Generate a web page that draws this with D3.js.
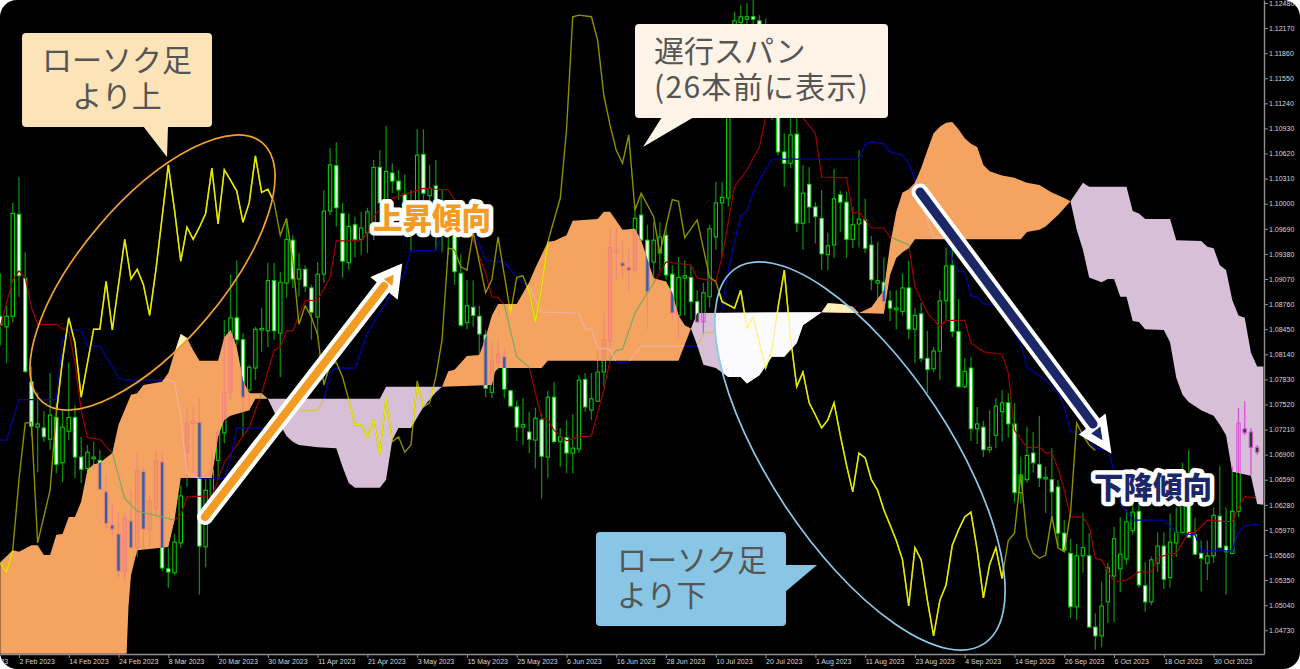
<!DOCTYPE html>
<html><head><meta charset="utf-8">
<script src="https://cdn.jsdelivr.net/npm/d3@7/dist/d3.min.js"></script>
<style>html,body{margin:0;padding:0;background:#fff}svg{display:block}</style>
</head><body><div id="chart"></div>
<script>
// All prices are in units of 0.0001 (10861 = 1.0861). Candle arrays start at bar -3.
const firstBar = -3;
const opens = [
10861,10848,10861,10987,10908,10780,10724,10723,10709,10736,
10680,10719,10736,10687,10673,10685,10683,10644,10603,10592,
10546,10608,10575,10669,10598,10623,10681,10549,10544,10581,
10693,10728,10730,10576,10640,10683,10717,10767,10859,10832,
10770,10797,10844,10843,10905,10840,10902,10955,10907,10919,
10896,10860,10913,10991,11047,10988,10927,10974,10956,10964,
10977,11045,11005,11038,11028,11012,10961,10968,11061,11010,
11022,10961,10961,10964,10914,10853,10872,10861,10838,10767,
10804,10811,10769,10749,10724,10718,10708,10733,10687,10761,
10706,10711,10692,10697,10783,10745,10756,10792,10830,10940,
10927,10921,10918,10986,10955,10928,10939,10961,10913,10862,
10908,10909,10879,10854,10885,10959,11001,11007,11165,11224,
11228,11231,11226,11178,11165,11128,11064,11050,11086,10976,
11024,10996,10982,10937,10949,11011,11002,10956,10975,10980,
10949,10902,10903,10880,10869,10867,10896,10845,10864,10809,
10796,10818,10880,10924,10842,10774,10797,10722,10724,10696,
10714,10743,10754,10728,10643,10659,10692,10678,10660,10659,
10650,10593,10568,10502,10565,10565,10477,10466,10508,10540,
10549,10561,10596,10620,10528,10508,10556,10577,10538,10581,
10594,10630,10591,10568,10556,10565,10614,10577,10568,10620,
10722,10718,10699];
const closes = [
10850,10861,10988,10911,10793,10725,10728,10712,10739,10678,
10724,10736,10687,10672,10693,10687,10647,10605,10598,10546,
10611,10575,10670,10598,10633,10682,10550,10545,10582,10639,
10729,10732,10577,10646,10671,10717,10767,10859,10832,10761,
10798,10845,10846,10905,10843,10903,10956,10907,10919,10898,
10866,10913,10991,11048,10995,10929,10972,10956,10970,10990,
11045,11001,11040,11028,11017,10986,10998,11060,11013,11019,
10985,10998,10986,10916,10850,10874,10862,10839,10772,10806,
10814,10771,10750,10724,10727,10709,10735,10688,10761,10706,
10712,10692,10698,10782,10749,10759,10792,10832,10946,10943,
10923,10918,10982,10955,10891,10955,10959,10912,10865,10909,
10911,10879,10854,10890,10969,11001,11008,11165,11226,11231,
11231,11228,11178,11141,11128,11064,11050,11085,10976,11013,
10996,10984,10938,10948,11006,11002,10956,10974,10981,10945,
10906,10905,10879,10871,10871,10896,10845,10862,10809,10795,
10818,10880,10923,10842,10774,10793,10722,10728,10696,10699,
10750,10754,10728,10643,10665,10689,10680,10661,10662,10644,
10593,10572,10502,10565,10575,10477,10466,10503,10550,10586,
10567,10607,10619,10529,10508,10560,10577,10536,10582,10594,
10634,10588,10567,10562,10565,10615,10575,10570,10620,10729,
10717,10699,10693];
const highs = [
10914,10875,11001,11033,10940,10799,10767,10744,10791,10754,
10745,10804,10751,10712,10702,10706,10696,10665,10628,10619,
10619,10646,10692,10674,10640,10696,10693,10575,10592,10652,
10749,10751,10760,10664,10696,10720,10856,10913,10930,10840,
10801,10848,10871,10927,10927,10916,10982,10961,10939,10924,
10900,10928,11017,11069,11076,11001,10988,10984,10990,10995,
11054,11066,11096,11050,11042,11036,11017,11092,11092,11048,
11054,11017,10998,10986,10937,10906,10905,10874,10844,10829,
10832,10822,10770,10757,10760,10743,10748,10741,10769,10780,
10723,10733,10740,10788,10791,10791,10819,10865,10970,10970,
10955,10946,10998,11013,10974,10977,10977,10971,10924,10934,
10930,10924,10893,10902,10974,11027,11027,11190,11237,11245,
11248,11252,11233,11229,11184,11153,11087,11106,11107,11048,
11045,11002,11017,10964,11043,11016,11015,10996,11066,11006,
10960,10953,10934,10893,10893,10914,10930,10871,10877,10843,
10823,10893,10946,10946,10882,10809,10811,10749,10732,10745,
10760,10770,10766,10754,10687,10724,10718,10738,10675,10698,
10659,10609,10586,10580,10618,10593,10494,10533,10556,10601,
10613,10622,10631,10631,10557,10564,10594,10594,10617,10625,
10680,10696,10612,10584,10584,10625,10676,10625,10675,10748,
10756,10723,10702];
const lows = [
10825,10803,10853,10885,10791,10712,10668,10706,10696,10667,
10656,10708,10661,10655,10667,10671,10645,10599,10588,10538,
10533,10575,10564,10576,10575,10612,10546,10525,10541,10575,
10650,10668,10517,10551,10628,10661,10704,10757,10825,10712,
10745,10782,10817,10823,10832,10786,10884,10896,10885,10891,
10832,10835,10902,10986,10972,10909,10918,10934,10937,10939,
10955,10968,10980,11013,11005,10964,10940,10964,10986,10986,
10943,10940,10937,10900,10848,10845,10848,10813,10761,10760,
10795,10760,10749,10707,10702,10692,10673,10636,10661,10704,
10675,10667,10667,10692,10743,10733,10755,10774,10809,10906,
10908,10891,10914,10955,10845,10900,10918,10906,10856,10834,
10862,10856,10853,10838,10872,10943,10934,10996,11153,11202,
11208,11208,11159,11116,11103,11060,11021,11044,10965,10943,
10976,10951,10918,10918,10933,10965,10933,10945,10946,10939,
10893,10881,10869,10855,10845,10862,10833,10803,10804,10766,
10792,10782,10856,10835,10772,10772,10707,10703,10687,10692,
10698,10706,10711,10631,10630,10655,10668,10650,10618,10613,
10576,10570,10488,10486,10544,10476,10449,10452,10482,10483,
10520,10554,10591,10526,10496,10504,10545,10524,10526,10564,
10591,10587,10566,10521,10535,10556,10575,10517,10567,10613,
10714,10665,10690];

const tenkanBars = [
-3,-2,-1,0,1,2,3,6,7,8,
9,10,11,13,15,17,19,22,25,26,
27,31,33,37,39,41,42,43,44,46,
48,50,51,55,56,57,59,60,63,65,
69,70,73,75,76,77,78,80,82,83,
84,85,86,88,90,92,94,95,96,97,
99,102,104,108,109,112,113,115,117,119,
120,121,124,126,128,129,133,134,135,137,
139,140,143,144,146,148,149,152,153,155,
158,159,160,162,164,165,166,167,168,169,
171,172,173,174,176,178,180,182,183,185,
186,188,189,191,193,195,196,197,199];
const tenkanValues = [
10848,10877,10906,10917,10909,10872,10851,10851,10845,10844,
10803,10745,10711,10709,10692,10636,10620,10615,10609,10615,
10638,10639,10680,10724,10766,10819,10823,10843,10843,10880,
10881,10909,10954,10954,10964,10984,11001,11007,11014,11019,
11017,11005,10955,10914,10885,10884,10875,10811,10798,10766,
10735,10734,10720,10707,10712,10713,10770,10807,10819,10820,
10865,10902,10928,10924,10908,10904,10934,11021,11042,11070,
11107,11147,11147,11106,11087,11033,11032,10988,10990,10970,
10970,10959,10949,10897,10865,10848,10856,10856,10828,10817,
10814,10791,10720,10699,10699,10692,10692,10673,10646,10613,
10613,10601,10562,10560,10533,10535,10545,10545,10562,10568,
10568,10594,10594,10609,10608,10607,10625,10638,10636];

const kijunBars = [
-3,-2,0,6,7,8,10,11,13,15,
16,17,24,25,26,27,29,33,34,35,
40,43,48,49,50,51,54,56,58,62,
63,67,68,73,75,78,80,82,84,90,
91,92,93,95,96,98,100,109,110,112,
113,114,116,117,118,119,121,135,136,137,
139,140,142,143,144,146,147,149,150,151,
152,153,154,155,157,161,162,165,167,168,
169,171,173,175,176,177,179,184,186,189,
190,195,196,197,199];
const kijunValues = [
10708,10708,10758,10758,10832,10844,10844,10824,10824,10798,
10785,10782,10782,10780,10736,10667,10661,10661,10687,10723,
10723,10743,10745,10758,10792,10797,10797,10840,10866,10914,
10942,10942,10964,10968,10930,10928,10909,10897,10866,10865,
10845,10845,10822,10820,10804,10804,10824,10824,10840,10842,
10872,10918,10986,10990,11014,11029,11055,11055,11073,11076,
11074,11064,11060,11050,11029,10980,10958,10958,10933,10916,
10916,10886,10885,10876,10876,10828,10798,10782,10766,10749,
10718,10718,10698,10696,10669,10630,10609,10609,10593,10591,
10571,10571,10594,10602,10604];

const chikouBars = [
-3,-2,-1,0,1,2,3,5,6,7,
8,9,10,11,12,13,14,15,17,18,
19,20,21,22,24,25,26,27,28,29,
30,31,32,33,35,36,37,38,39,40,
41,42,43,44,45,46,47,48,49,50,
51,52,53,54,55,56,57,58,59,60,
61,62,63,64,65,66,67,68,69,70,
71,72,73,75,76,77,79,80,81,82,
83,84,85,87,88,89,90,92,93,94,
95,96,97,98,99,100,102,103,105,106,
107,109,111,112,113,115,116,117,118,120,
121,122,123,124,125,126,127,128,129,130,
131,132,133,134,135,136,137,138,139,140,
141,142,143,144,145,146,147,148,149,150,
151,152,153,154,155,156,157,158,159,160,
161,162,163,164,165,166,167,168,169,170,
171,172,173];
const chikouValues = [
10556,10545,10572,10659,10729,10730,10581,10646,10741,10807,
10859,10828,10761,10803,10845,10845,10904,10844,10956,10907,
10919,10900,10862,10918,11048,10992,10929,10971,10956,10971,
10988,11044,10975,11042,11016,10977,11001,11059,11014,11018,
11002,10961,10982,10930,10851,10874,10860,10838,10776,10801,
10804,10786,10758,10727,10727,10711,10734,10690,10761,10706,
10712,10693,10702,10781,10749,10754,10786,10832,10945,10943,
10922,10918,10965,10890,10906,10959,10865,10909,10911,10891,
10854,10897,10953,11007,11091,11231,11233,11231,11202,11134,
11097,11066,11050,11085,10992,11013,10984,10939,11005,11003,
10958,10980,10909,10904,10879,10871,10893,10846,10860,10797,
10819,10872,10918,10835,10774,10792,10754,10739,10723,10733,
10754,10714,10677,10644,10692,10686,10659,10646,10622,10603,
10584,10560,10503,10575,10560,10510,10466,10510,10529,10578,
10597,10613,10619,10572,10513,10554,10575,10537,10584,10593,
10665,10588,10568,10562,10566,10614,10575,10570,10618,10729,
10714,10702,10695];

// Ichimoku cloud, one entry per stretch between span crossings
const cloudKinds = ["up","down","up","down","up","up","down"];
const cloudUpperBars = [
[-3,-1,0,2,3,4,5,6,7,8,9,10,11,12,13,15,16,18,19,20,23,24,25,26,27,28,29,32,33,34,35,36,37,39,40],
[40,58,59,68],
[68,69,70,72,74,75,76,77,80,82,83,84,85,86,88,89,93,94,95,97,99,100,102,104,105,106,107,108],
[108,109,129],
[129,130,132,134,135],
[135,137,139,140,141,142,143,144,145,146,147,148,149,150,151,152,153,154,155,156,158,160,162,164,166,168,169],
[169,171,172,178,179,180,181,185,186,190,191,192,193,194,195,196,197,198,199,200]];
const cloudUpperValues = [
[10557,10572,10570,10578,10578,10566,10566,10591,10592,10613,10613,10632,10671,10678,10680,10692,10727,10764,10766,10776,10780,10791,10816,10839,10834,10819,10806,10806,10835,10844,10823,10782,10766,10766,10759],
[10759,10759,10774,10774],
[10774,10793,10795,10812,10813,10835,10862,10876,10876,10903,10921,10937,10953,10954,10961,10979,10981,10990,10990,10968,10969,10955,10908,10904,10890,10862,10850,10846],
[10846,10865,10866],
[10866,10877,10876,10873,10865],
[10865,10872,10893,10949,10990,11014,11018,11026,11044,11066,11087,11095,11100,11101,11092,11081,11074,11070,11048,11040,11035,11032,11026,11023,11014,11007,11003],
[11003,11026,11021,11021,10991,10988,10981,10981,10955,10954,10947,10945,10924,10918,10881,10862,10859,10816,10799,10799]];
const cloudLowerBars = [
[-3,17.3,17.6,18,19,24,25,26,31,32,33,34,37,38,40],
[40,41,42,43,44,45,48,51,52,53,54,58,59,60,61,63,65,67,68],
[68,76,76.5,77,84,85,106,108],
[108,109,110,112,114,116,117,119,121,123,125,126,129],
[129,135],
[135,139,140,141,142,143,144,161,162,164,165,167,169],
[169,170,171,172,174,175,176,177,178,179,180,181,184,185,186,187,188,190,192,193,194,195,198,199,200]];
const cloudLowerValues = [
[10444,10444,10502,10541,10572,10576,10609,10661,10661,10712,10733,10738,10745,10759,10759],
[10759,10743,10727,10713,10706,10702,10699,10698,10675,10655,10649,10649,10659,10708,10723,10723,10749,10767,10774],
[10774,10776,10792,10797,10797,10806,10806,10846],
[10846,10825,10801,10797,10786,10786,10778,10788,10811,10811,10828,10850,10866],
[10866,10865],
[10865,10864,10912,10933,10940,10945,10956,10956,10965,10968,10972,10986,11003],
[11003,10968,10943,10909,10903,10907,10907,10885,10885,10855,10854,10845,10844,10829,10785,10764,10755,10745,10738,10727,10714,10669,10664,10629,10628]];

const priceLabels = ["1.12480","1.12170","1.11860","1.11550","1.11240","1.10930","1.10620","1.10310","1.10000","1.09690","1.09380","1.09070","1.08760","1.08450","1.08140","1.07830","1.07520","1.07210","1.06900","1.06590","1.06280","1.05970","1.05660","1.05350","1.05040","1.04730"];
const dateLabels = ["23 Jan 2023","2 Feb 2023","14 Feb 2023","24 Feb 2023","8 Mar 2023","20 Mar 2023","30 Mar 2023","11 Apr 2023","21 Apr 2023","3 May 2023","15 May 2023","25 May 2023","6 Jun 2023","16 Jun 2023","28 Jun 2023","10 Jul 2023","20 Jul 2023","1 Aug 2023","11 Aug 2023","23 Aug 2023","4 Sep 2023","14 Sep 2023","26 Sep 2023","6 Oct 2023","18 Oct 2023","30 Oct 2023"];
const dateBars = [-8,0,8,16,24,32,40,48,56,64,72,80,88,96,104,112,120,128,136,144,152,160,168,176,184,192];

const W = 1300, H = 669, plotR = 1264, plotB = 654;
const x = d3.scaleLinear().domain([-3.05, 200.1]).range([0, plotR]);
const y = d3.scaleLinear().domain([1.12517, 1.04437]).range([0, plotB]);
const yv = v => y(v / 1e4);
const line = d3.line();
const pts = (bars, vals) => d3.zip(bars, vals).map(([b, v]) => [x(b), yv(v)]);

const candles = opens.map((o, i) => ({bar: firstBar + i, o, c: closes[i], h: highs[i], l: lows[i]}));
const cloudPath = cloudKinds.map((k, i) => line(pts(cloudUpperBars[i], cloudUpperValues[i]).concat(pts(cloudLowerBars[i], cloudLowerValues[i]).reverse())) + "Z");

const svg = d3.select("#chart").append("svg").attr("width", W).attr("height", H).attr("viewBox", `0 0 ${W} ${H}`);
const defs = svg.append("defs");
defs.append("clipPath").attr("id", "frame").append("rect").attr("width", W).attr("height", H).attr("rx", 17);
defs.append("clipPath").attr("id", "plot").append("rect").attr("width", plotR).attr("height", plotB);

const ellipses = [
  {id: "orangeOval", cx: 152.5, cy: 272.5, rx: 170, ry: 71, rot: -49.7, stroke: "#F0A030"},
  {id: "blueOval", cx: 860, cy: 456, rx: 225, ry: 90, rot: 56.5, stroke: "#8CC8E8"}
];
const addOval = (sel, e) => sel.append("ellipse").attr("rx", e.rx).attr("ry", e.ry).attr("transform", `translate(${e.cx},${e.cy}) rotate(${e.rot})`);
const kindClip = k => {
  const c = defs.append("clipPath").attr("id", "cloud-" + k);
  cloudKinds.forEach((kk, i) => { if (kk === k) c.append("path").attr("d", cloudPath[i]); });
};
kindClip("up"); kindClip("down");
const allClouds = defs.append("clipPath").attr("id", "clouds");
cloudPath.forEach(d => allClouds.append("path").attr("d", d));
const ovals = defs.append("clipPath").attr("id", "ovals");
ellipses.forEach(e => addOval(ovals, e));
const bright = defs.append("clipPath").attr("id", "bright");
ellipses.forEach(e => addOval(bright, e));
cloudPath.forEach(d => bright.append("path").attr("d", d));

const root = svg.append("g").attr("clip-path", "url(#frame)");
root.append("rect").attr("width", W).attr("height", H).attr("fill", "#000");
const plot = root.append("g").attr("clip-path", "url(#plot)");

function drawCandles(g, s) {
  g.append("g").selectAll("line").data(candles).join("line")
    .attr("x1", d => x(d.bar)).attr("x2", d => x(d.bar))
    .attr("y1", d => yv(d.h)).attr("y2", d => yv(d.l))
    .attr("stroke", s.wick).attr("stroke-width", 1.3);
  g.append("g").selectAll("rect").data(candles).join("rect")
    .attr("x", d => x(d.bar) - 1.7).attr("width", 3.4)
    .attr("y", d => yv(Math.max(d.o, d.c)))
    .attr("height", d => Math.max(Math.abs(yv(d.o) - yv(d.c)), 1))
    .attr("fill", d => d.c < d.o ? s.bear : s.bull)
    .attr("stroke", s.border).attr("stroke-width", 1);
}
function drawLines(g, red, blue) {
  g.append("path").attr("d", line(pts(tenkanBars, tenkanValues))).attr("fill", "none").attr("stroke", red).attr("stroke-width", 1.2);
  g.append("path").attr("d", line(pts(kijunBars, kijunValues))).attr("fill", "none").attr("stroke", blue).attr("stroke-width", 1.2);
}

drawCandles(plot, {wick: "#0a8c0a", border: "#00dc00", bull: "#000", bear: "#fff"});
drawLines(plot, "#a00000", "#0000b0");

plot.selectAll("path.cloud").data(cloudKinds).join("path").attr("class", "cloud")
  .attr("d", (k, i) => cloudPath[i]).attr("fill", k => k === "up" ? "#F4A460" : "#D8BFD8");

const gUp = plot.append("g").attr("clip-path", "url(#cloud-up)");
drawCandles(gUp, {wick: "#F28A78", border: "#F2807A", bull: "none", bear: "#2A62AC"});
drawLines(gUp, "#7CA660", "#F5B09A");
const gDown = plot.append("g").attr("clip-path", "url(#cloud-down)");
drawCandles(gDown, {wick: "#D850D8", border: "#D850D8", bull: "none", bear: "#274027"});
drawLines(gDown, "#58BFD8", "#D8BF58");

const chikou = line(pts(chikouBars, chikouValues));
plot.append("path").attr("d", chikou).attr("fill", "none").attr("stroke", "#8f8f00").attr("stroke-width", 1.4);
plot.append("path").attr("d", chikou).attr("fill", "none").attr("stroke", "#e8e800").attr("stroke-width", 1.5).attr("clip-path", "url(#bright)");

const pale = plot.append("g").attr("clip-path", "url(#ovals)");
pale.selectAll("path.pale").data(cloudKinds).join("path").attr("class", "pale")
  .attr("d", (k, i) => cloudPath[i]).attr("fill", k => k === "up" ? "#FFF0BC" : "#FBFAFD");
pale.append("path").attr("d", chikou).attr("fill", "none").attr("stroke", "#FFF27A").attr("stroke-width", 1.2).attr("clip-path", "url(#clouds)");

// axes
const styleAxis = g => {
  g.selectAll("path.domain,line").attr("stroke", "#8f8f8f");
  g.select("path.domain").attr("stroke-width", 1.4);
  g.selectAll("text").attr("fill", "#d8d8d8").attr("font-family", "'Liberation Sans',sans-serif").attr("font-size", 7);
};
root.append("g").attr("transform", `translate(${plotR},0)`)
  .call(d3.axisRight(y).tickValues(priceLabels.map(Number)).tickFormat(d3.format(".5f")).tickSize(4).tickSizeOuter(0).tickPadding(1))
  .call(styleAxis);
root.append("g").attr("transform", `translate(0,${plotB})`)
  .call(d3.axisBottom(x).tickValues(dateBars).tickFormat((d, i) => dateLabels[i]).tickSize(4).tickSizeOuter(0).tickPadding(1))
  .call(styleAxis)
  .call(g => g.selectAll("text").attr("text-anchor", "start"));

// ovals
root.selectAll("g.oval").data(ellipses).join("g").attr("class", "oval").each(function (e) {
  addOval(d3.select(this), e).attr("fill", "none").attr("stroke", e.stroke).attr("stroke-width", 1.7);
});

// callouts
const jp = "'Noto Sans CJK JP','Noto Sans',sans-serif";
function callout(bx, by, bw, bh, tail, fill) {
  root.append("path").attr("d", line(tail) + "Z").attr("fill", fill);
  root.append("rect").attr("x", bx).attr("y", by).attr("width", bw).attr("height", bh).attr("rx", 4).attr("fill", fill);
}
function label(t, tx, ty, anchor, spacing) {
  root.append("text").attr("x", tx).attr("y", ty).attr("text-anchor", anchor || "start")
    .attr("letter-spacing", spacing || 0)
    .attr("font-family", jp).attr("font-size", 30).attr("fill", "#555").text(t);
}
callout(22, 33, 190, 94, [[143, 126], [167, 157], [168, 126]], "#FDE3B8");
label("ローソク足", 117, 71, "middle");
label("より上", 117, 107, "middle");
callout(635, 24, 253, 94, [[662, 117], [643, 147], [694, 117]], "#FEF3E7");
label("遅行スパン", 654, 62);
label("(26本前に表示)", 654, 98, "start", 1.3);
callout(596, 532, 190, 94, [[785, 565], [817, 565], [785, 592]], "#89C5E4");
label("ローソク足", 617, 571);
label("より下", 617, 606);

// trend arrows
function arrow(x0, y0, x1, y1, head, color, shaft) {
  root.append("line").attr("x1", x0).attr("y1", y0).attr("x2", x1).attr("y2", y1)
    .attr("stroke", "#fff").attr("stroke-width", shaft + 8).attr("stroke-linecap", "round");
  root.append("path").attr("d", line(head) + "Z").attr("fill", color).attr("stroke", "#fff").attr("stroke-width", 7).attr("stroke-linejoin", "miter");
  root.append("line").attr("x1", x0).attr("y1", y0).attr("x2", x1).attr("y2", y1)
    .attr("stroke", color).attr("stroke-width", shaft).attr("stroke-linecap", "round");
}
arrow(205, 517, 384, 286, [[398, 269], [377, 278], [395, 293]], "#F39B23", 8);
arrow(920, 192, 1093, 424, [[1107, 447], [1103, 420], [1085, 434]], "#1B2767", 9);

function trend(t, cx, cy, color) {
  root.append("text").attr("x", cx).attr("y", cy).attr("text-anchor", "middle")
    .attr("font-family", jp).attr("font-weight", 900).attr("font-size", 29.5)
    .attr("fill", color).attr("stroke", "#fff").attr("stroke-width", 9).attr("stroke-linejoin", "round")
    .attr("paint-order", "stroke").text(t);
}
trend("上昇傾向", 432, 229, "#F39B23");
trend("下降傾向", 1153, 498, "#1B2767");
</script></body></html>
